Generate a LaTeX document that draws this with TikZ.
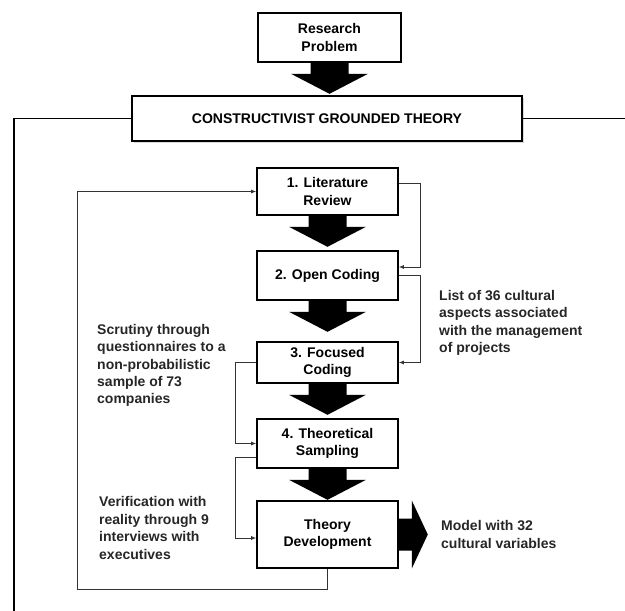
\documentclass[tikz,border=0pt]{standalone}
\usepackage{fontspec}
\setmainfont{Liberation Sans}
\usepackage{tikz}
\usetikzlibrary{arrows.meta,shadows}

\begin{document}
\begin{tikzpicture}[x=1pt, y=-1pt,
    every node/.style={font=\bfseries\fontsize{14}{17.4}\selectfont},
    box/.style={draw, line width=1.6pt, fill=white, align=center, inner sep=0pt,
        minimum width=141pt, minimum height=47pt},
    note/.style={align=left, inner sep=0pt, anchor=west, text=black!85},
    link/.style={draw=black!80, line width=0.8pt, -{Latex[length=5pt,width=4pt]}},
    frame/.style={line width=1.8pt},
    blockdown/.pic={\fill (-19,0) -- (-19,11) -- (-38.5,11) -- (0,31) -- (38.5,11) -- (19,11) -- (19,0) -- cycle;},
    blockright/.pic={\fill (0,-16) -- (13,-16) -- (13,-34) -- (29,0) -- (13,34) -- (13,16) -- (0,16) -- cycle;}]
    \useasboundingbox (0,0) rectangle (625,611);

    \node[box, minimum width=143pt, minimum height=49pt] (problem) at (329.5,37.5) {Research\\Problem};
    \node[box, line width=2.2pt, minimum width=390pt, minimum height=45pt,
        drop shadow={shadow xshift=1.5pt, shadow yshift=-1.5pt, opacity=.3}] (cgt) at (327,118.5) {CONSTRUCTIVIST GROUNDED THEORY};
    \node[box] (lit) at (327.5,191.5) {1. Literature\\Review};
    \node[box, minimum height=49pt] (open) at (327.5,275.5) {2. Open Coding};
    \node[box, minimum height=41pt] (foc) at (327.5,362.5) {3. Focused\\Coding};
    \node[box, minimum height=49pt] (theo) at (327.5,443.5) {4. Theoretical\\Sampling};
    \node[box, minimum height=67pt] (dev) at (327.5,534.5) {Theory\\Development};

    \node[note] (scrutiny) at (97,365.5) {Scrutiny through\\questionnaires to a\\non-probabilistic\\sample of 73\\companies};
    \node[note] (aspects) at (439,323) {List of 36 cultural\\aspects associated\\with the management\\of projects};
    \node[note] (verify) at (99,528) {Verification with\\reality through 9\\interviews with\\executives};
    \node[note] (model) at (441,534.5) {Model with 32\\cultural variables};

    \coordinate (leftend) at (14,611);
    \coordinate (rightend) at (625,118.5);
    \coordinate (loop) at (77,589);

    \draw[frame] (cgt.west) -| (leftend);
    \draw[frame] (cgt.east) -- (rightend);

    \pic at (problem.south) {blockdown};
    \pic at (lit.south) {blockdown};
    \pic at (open.south) {blockdown};
    \pic at (foc.south) {blockdown};
    \pic at (theo.south) {blockdown};
    \pic at (dev.east) {blockright};

    \draw[link] ([yshift=8.5pt]lit.east) -- ++(22,0) |- ([yshift=8.5pt]open.east);
    \draw[link] (open.east) -- ++(22,0) |- (foc.east);
    \draw[link] (foc.west) -- ++(-21,0) |- (theo.west);
    \draw[link] ([yshift=-13.5pt]theo.west) -- ++(-21,0) |- ([yshift=-3.5pt]dev.west);
    \draw[link] (dev.south) |- (loop) |- (lit.west);
\end{tikzpicture}
\end{document}
